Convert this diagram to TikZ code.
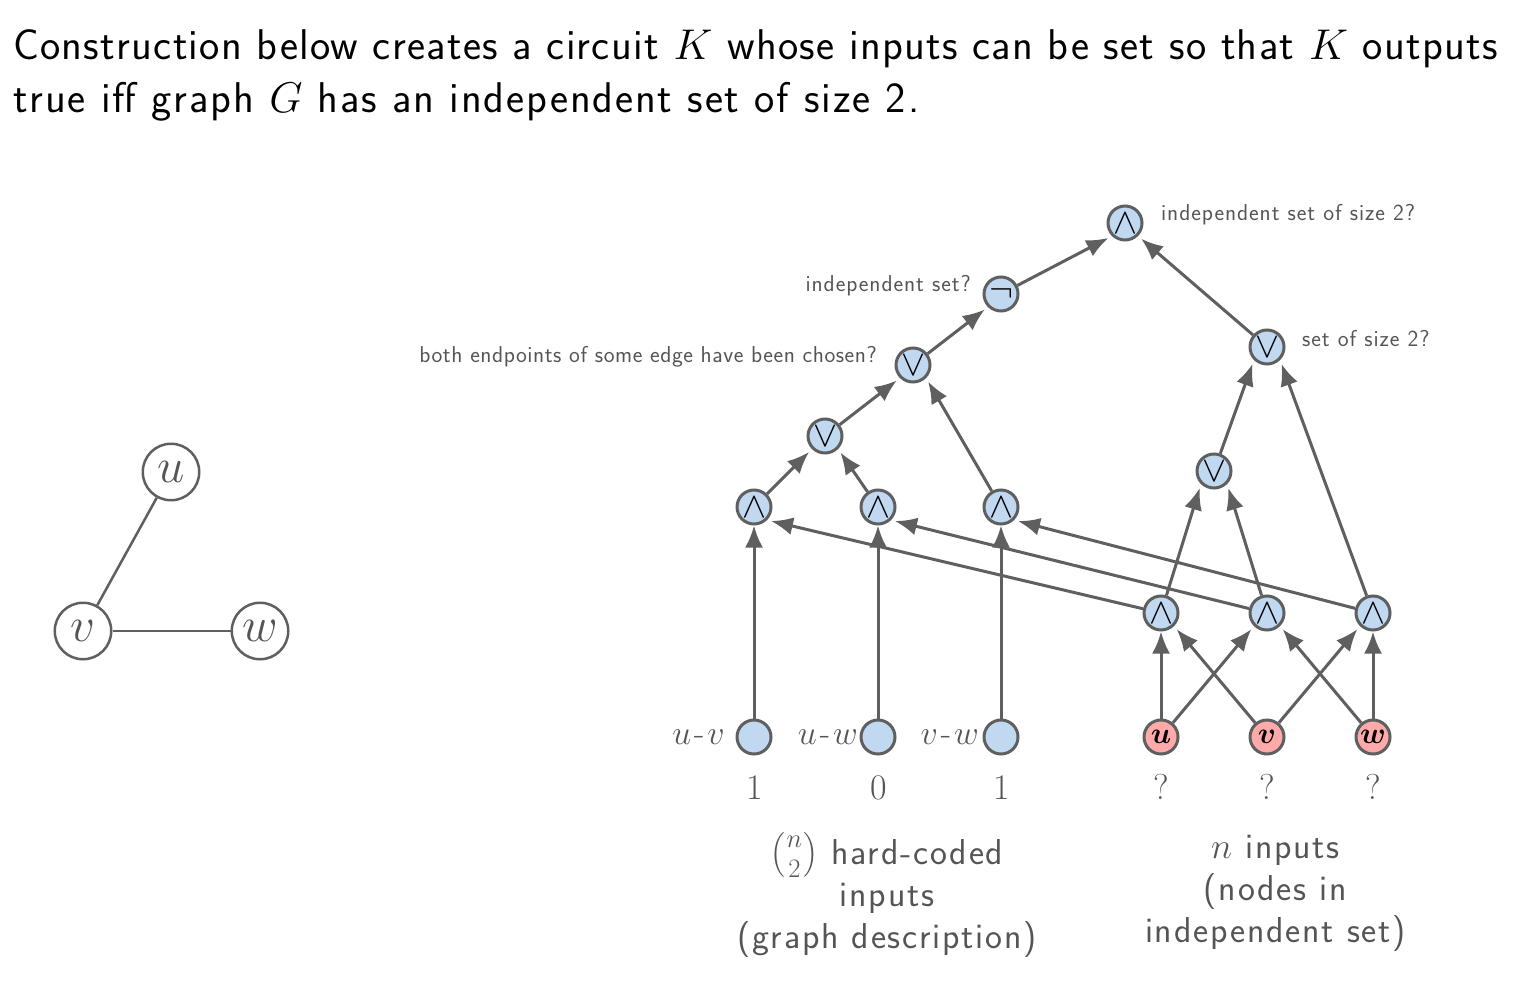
\documentclass[tikz,border=0pt]{standalone}
\usepackage[no-math]{fontspec}
\setsansfont{Latin Modern Sans}
\usepackage{fix-cm}
\usepackage{amsmath}
\usepackage{bm}
\usepackage{tikz}
\usetikzlibrary{arrows.meta,positioning}
\definecolor{linegray}{HTML}{5F5F5F}
\definecolor{textgray}{HTML}{555555}
\definecolor{gateblue}{HTML}{C0D8F0}
\definecolor{inputpink}{HTML}{FFAAAA}
\begin{document}
\begin{tikzpicture}[
        x=1pt,y=-1pt,
        gate/.style={circle,draw=linegray,line width=3pt,fill=gateblue,minimum size=34pt,inner sep=0pt,text=black,font=\fontsize{36}{36}\selectfont},
        hardin/.style={gate},
        varin/.style={gate,fill=inputpink,font=\fontsize{30}{30}\selectfont},
        vertex/.style={circle,draw=linegray,line width=2.5pt,fill=white,minimum size=56.5pt,inner sep=0pt,text=textgray,font=\fontsize{49}{49}\selectfont},
        edge/.style={draw=linegray,line width=2.5pt},
        wire/.style={draw=linegray,line width=3pt,-{Latex[length=22pt,width=18pt]},shorten >=4pt},
        upwire/.style={wire,shorten >=0pt},
        note/.style={text=textgray,inner sep=0pt,font=\sffamily\fontsize{23}{27}\selectfont\addfontfeature{LetterSpace=4}},
        inname/.style={text=textgray,inner sep=0pt,font=\fontsize{34}{34}\selectfont},
        value/.style={text=textgray,inner sep=0pt,font=\fontsize{36}{36}\selectfont},
        caption/.style={text=textgray,inner sep=0pt,font=\sffamily\fontsize{36}{42}\selectfont\addfontfeature{LetterSpace=5}}
      ]
        \useasboundingbox (0,0) rectangle (1514,984);
        \node[anchor=north west,inner sep=0pt,align=left,font=\sffamily\fontsize{43}{53}\selectfont\addfontfeature{LetterSpace=3}] (title) at (13,29)
          {Construction below creates a circuit $K$ whose inputs can be set so that $K$ outputs\\
           \addfontfeature{LetterSpace=4.3}true iff graph $G$ has an independent set of size 2.};

        \node[vertex] (u) at (171,472) {$u$};
        \node[vertex] (v) at (83,631) {$v$};
        \node[vertex] (w) at (260,631) {$w$};
        \draw[edge] (u) -- (v);
        \draw[edge] (v) -- (w);

        \node[gate] (top) at (1125,223) {$\wedge$};
        \node[gate] (indep) at (1001,294) {\raisebox{-4pt}{$\neg$}};
        \node[gate] (both) at (913,365) {$\vee$};
        \node[gate] (someedge) at (825,436) {$\vee$};
        \node[gate] (size) at (1267,347) {$\vee$};
        \node[gate] (pairs) at (1214,471) {$\vee$};
        \node[gate] (uv) at (754,507) {$\wedge$};
        \node[gate] (uw) at (878,507) {$\wedge$};
        \node[gate] (vw) at (1001,507) {$\wedge$};
        \node[gate] (xuv) at (1161,613) {$\wedge$};
        \node[gate] (xuw) at (1267,613) {$\wedge$};
        \node[gate] (xvw) at (1373,613) {$\wedge$};

        \node[hardin] (huv) at (754,737) {};
        \node[hardin] (huw) at (878,737) {};
        \node[hardin] (hvw) at (1001,737) {};
        \node[varin] (iu) at (1161,737) {$\bm{u}$};
        \node[varin] (iv) at (1267,737) {$\bm{v}$};
        \node[varin] (iw) at (1373,737) {$\bm{w}$};

        \draw[wire] (indep) -- (top.south west);
        \draw[wire] (size) -- (top.south east);
        \draw[wire] (both) -- (indep.south west);
        \draw[wire] (someedge) -- (both.south west);
        \draw[wire] (vw) -- (both.south east);
        \draw[wire] (uv) -- (someedge.south west);
        \draw[wire] (uw) -- (someedge.south east);
        \draw[wire] (pairs) -- (size.south west);
        \draw[wire] (xvw) -- (size.south east);
        \draw[wire] (xuv) -- (pairs.south west);
        \draw[wire] (xuw) -- (pairs.south east);
        \draw[wire] (xuv) -- (uv.south east);
        \draw[wire] (xuw) -- (uw.south east);
        \draw[wire] (xvw) -- (vw.south east);
        \draw[upwire] (huv) -- (uv);
        \draw[upwire] (huw) -- (uw);
        \draw[upwire] (hvw) -- (vw);
        \draw[upwire] (iu) -- (xuv);
        \draw[upwire] (iw) -- (xvw);
        \draw[wire] (iu) -- (xuw.south west);
        \draw[wire] (iv) -- (xuv.south east);
        \draw[wire] (iv) -- (xvw.south west);
        \draw[wire] (iw) -- (xuw.south east);

        \node[note,anchor=west] (topnote) at (1161,215) {independent set of size 2?};
        \node[note,anchor=west] (sizenote) at (1302,339) {set of size 2?};
        \node[note,anchor=east] (indepnote) at (971,286) {independent set?};
        \node[note,anchor=east,font=\sffamily\fontsize{23}{27}\selectfont\addfontfeature{LetterSpace=2.4}] (bothnote) at (877,357) {both endpoints of some edge have been chosen?};

        \node[inname,anchor=east] (huvname) at (725,737) {$u$\kern3pt-\kern3pt$v$};
        \node[inname,anchor=east] (huwname) at (858,737) {$u$\kern3pt-\kern3pt$w$};
        \node[inname,anchor=east] (hvwname) at (979,737) {$v$\kern3pt-\kern3pt$w$};

        \node[value] (huvval) at (755,788) {1};
        \node[value] (huwval) at (879,788) {0};
        \node[value] (hvwval) at (1002,788) {1};
        \node[value] (iuval) at (1161,787) {?};
        \node[value] (ivval) at (1267,787) {?};
        \node[value] (iwval) at (1373,787) {?};

        \node[caption] (hardcap) at (887,898) {\begin{tabular}{c} \smash{\fontsize{38}{38}\selectfont$\bigl(\genfrac{}{}{0pt}{}{n}{2}\bigr)$} hard-coded \\ inputs \\ (graph description) \end{tabular}};
        \node[caption] (varcap) at (1275.5,892) {\begin{tabular}{c} $n$ inputs \\ (nodes in \\ independent set) \end{tabular}};
      \end{tikzpicture}
\end{document}
